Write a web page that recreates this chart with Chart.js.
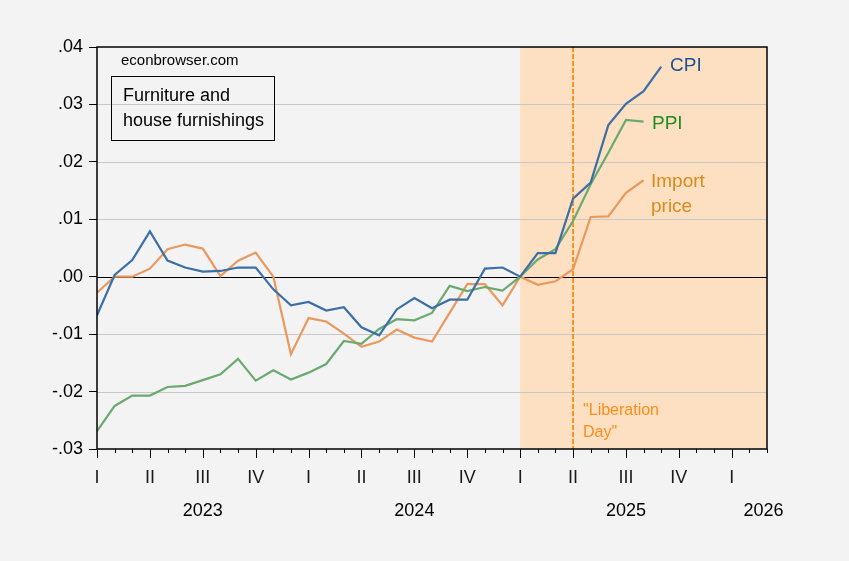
<!DOCTYPE html>
<html>
<head>
<meta charset="utf-8">
<script src="https://cdn.jsdelivr.net/npm/chart.js@4.4.1/dist/chart.umd.min.js"></script>
<style>
  html, body { margin: 0; padding: 0; background: #f3f3f3; }
  #wrap { width: 849px; height: 561px; }
</style>
</head>
<body>
<div id="wrap"><canvas id="grafico" width="849" height="561"></canvas></div>
<script>
// month index 0 = Jan 2023
const cpi = [-0.0067, 0.0003, 0.0029, 0.0079, 0.0028, 0.0016, 0.0009, 0.0010, 0.0016, 0.0016,
    -0.0022, -0.0050, -0.0044, -0.0059, -0.0053, -0.0088, -0.0102, -0.0057, -0.0037, -0.0055,
    -0.0040, -0.0040, 0.0014, 0.0016, 0.0000, 0.0041, 0.0041, 0.0136, 0.0164, 0.0264,
    0.0301, 0.0323, 0.0366];
const ppi = [-0.0269, -0.0225, -0.0207, -0.0207, -0.0192, -0.0190, -0.0180, -0.0170, -0.0143, -0.0181,
    -0.0163, -0.0179, -0.0167, -0.0152, -0.0112, -0.0117, -0.0091, -0.0074, -0.0076, -0.0063,
    -0.0016, -0.0025, -0.0018, -0.0024, 0.0000, 0.0030, 0.0048, 0.0097, 0.0161, 0.0216,
    0.0273, 0.0270];
const importPrice = [-0.0028, 0.0000, 0.0000, 0.0014, 0.0048, 0.0056, 0.0049, 0.0001, 0.0028, 0.0042,
    0.0000, -0.0135, -0.0072, -0.0078, -0.0099, -0.0122, -0.0113, -0.0092, -0.0106, -0.0113,
    -0.0063, -0.0013, -0.0013, -0.0050, 0.0000, -0.0014, -0.0008, 0.0013, 0.0104, 0.0105,
    0.0146, 0.0168];

const quarterLabels = ['I', 'II', 'III', 'IV'];
const years = ['2023', '2024', '2025', '2026'];
const yearPos = [6, 18, 30, 37.8];
const lastMonth = 38;
const shadeStart = 24;   // Jan 2025
const liberationDay = 27; // Apr 2025

function pts(arr) {
    return arr.map((v, i) => ({ x: i, y: v }));
}

const font = '"Liberation Sans", Arial, sans-serif';

const extras = {
    id: 'extras',
    beforeDatasetsDraw(chart) {
        const c = chart.ctx, a = chart.chartArea, x = chart.scales.x, y = chart.scales.y;
        c.save();
        c.fillStyle = '#fde0c2';
        const xs = x.getPixelForValue(shadeStart);
        c.fillRect(xs, a.top, a.right - xs, a.bottom - a.top);
        // grid lines over shading
        c.strokeStyle = '#c8c8c8';
        c.lineWidth = 1;
        for (let v = -0.02; v <= 0.035; v += 0.01) {
            if (Math.abs(v) < 1e-6) continue;
            const py = Math.round(y.getPixelForValue(v)) + 0.5;
            c.beginPath(); c.moveTo(a.left, py); c.lineTo(a.right, py); c.stroke();
        }
        // zero line
        const pz = Math.round(y.getPixelForValue(0)) + 0.5;
        c.strokeStyle = '#000';
        c.beginPath(); c.moveTo(a.left, pz); c.lineTo(a.right, pz); c.stroke();
        // liberation day, dashed
        const xl = x.getPixelForValue(liberationDay);
        c.strokeStyle = '#ff7f00';
        c.lineWidth = 1.6;
        c.setLineDash([5, 2]);
        c.beginPath(); c.moveTo(xl, a.top); c.lineTo(xl, a.bottom); c.stroke();
        c.restore();
    },
    afterDraw(chart) {
        const c = chart.ctx, a = chart.chartArea, x = chart.scales.x, y = chart.scales.y;
        c.save();
        c.strokeStyle = '#000';
        c.lineWidth = 1.5;
        c.strokeRect(a.left, a.top, a.right - a.left, a.bottom - a.top);
        // x tick marks
        c.lineWidth = 1;
        for (let m = 0; m <= lastMonth; m++) {
            const px = Math.round(x.getPixelForValue(m)) + 0.5;
            c.beginPath();
            c.moveTo(px, a.bottom);
            c.lineTo(px, a.bottom + (m % 3 === 0 ? 9 : 4));
            c.stroke();
        }
        // year labels
        c.fillStyle = '#000';
        c.font = '18px ' + font;
        c.textAlign = 'center';
        c.textBaseline = 'middle';
        years.forEach((t, i) => c.fillText(t, x.getPixelForValue(yearPos[i]), 511));
        // series labels
        c.textAlign = 'left';
        c.font = '19px ' + font;
        c.fillStyle = '#1f4f8f';
        c.fillText('CPI', 670, 66);
        c.fillStyle = '#1e8c1e';
        c.fillText('PPI', 652, 124);
        c.fillStyle = '#d98a1a';
        c.fillText('Import', 651, 182);
        c.fillText('price', 651, 207);
        // liberation day text
        c.fillStyle = '#ff8c1a';
        c.font = '16px ' + font;
        c.fillText('"Liberation', x.getPixelForValue(liberationDay) + 10, 411);
        c.fillText('Day"', x.getPixelForValue(liberationDay) + 10, 433);
        // source + title box
        c.fillStyle = '#000';
        c.font = '15px ' + font;
        c.fillText('econbrowser.com', 121, 61);
        c.lineWidth = 1;
        c.strokeRect(111.5, 76.5, 163, 64);
        c.font = '18px ' + font;
        c.fillText('Furniture and', 123, 96);
        c.fillText('house furnishings', 123, 121);
        c.restore();
    }
};

const ctx = document.getElementById('grafico').getContext('2d');

new Chart(ctx, {
    type: 'line',
    data: {
        datasets: [
            { label: 'CPI', data: pts(cpi), borderColor: '#3c6fa6', borderWidth: 2.2 },
            { label: 'PPI', data: pts(ppi), borderColor: '#6aaa70', borderWidth: 2.2 },
            { label: 'Import price', data: pts(importPrice), borderColor: '#e9995e', borderWidth: 2.2 }
        ]
    },
    options: {
        responsive: false,
        animation: false,
        layout: { padding: { top: 47, right: 82, left: 0, bottom: 0 } },
        elements: { point: { radius: 0 }, line: { tension: 0 } },
        plugins: { legend: { display: false }, tooltip: { enabled: false } },
        scales: {
            x: {
                type: 'linear',
                min: 0,
                max: lastMonth,
                afterFit: (s) => { s.height = 112; },
                afterBuildTicks: (s) => {
                    const t = [];
                    for (let m = 0; m <= lastMonth; m += 3) t.push({ value: m });
                    s.ticks = t;
                },
                grid: { display: false },
                border: { display: false },
                ticks: {
                    autoSkip: false,
                    maxRotation: 0,
                    padding: 10,
                    color: '#1a1a1a',
                    font: { family: font, size: 18 },
                    callback: (v) => quarterLabels[(v / 3) % 4]
                }
            },
            y: {
                min: -0.03,
                max: 0.04,
                afterFit: (s) => { s.width = 97; },
                grid: { drawOnChartArea: false, tickLength: 8, tickColor: '#000' },
                border: { display: false },
                ticks: {
                    stepSize: 0.01,
                    padding: 6,
                    color: '#000',
                    font: { family: font, size: 18 },
                    callback: (v) => {
                        const s = Math.abs(v).toFixed(2).replace('0.', '.');
                        return v < -1e-9 ? '-' + s : s;
                    }
                }
            }
        }
    },
    plugins: [extras]
});
</script>
</body>
</html>
